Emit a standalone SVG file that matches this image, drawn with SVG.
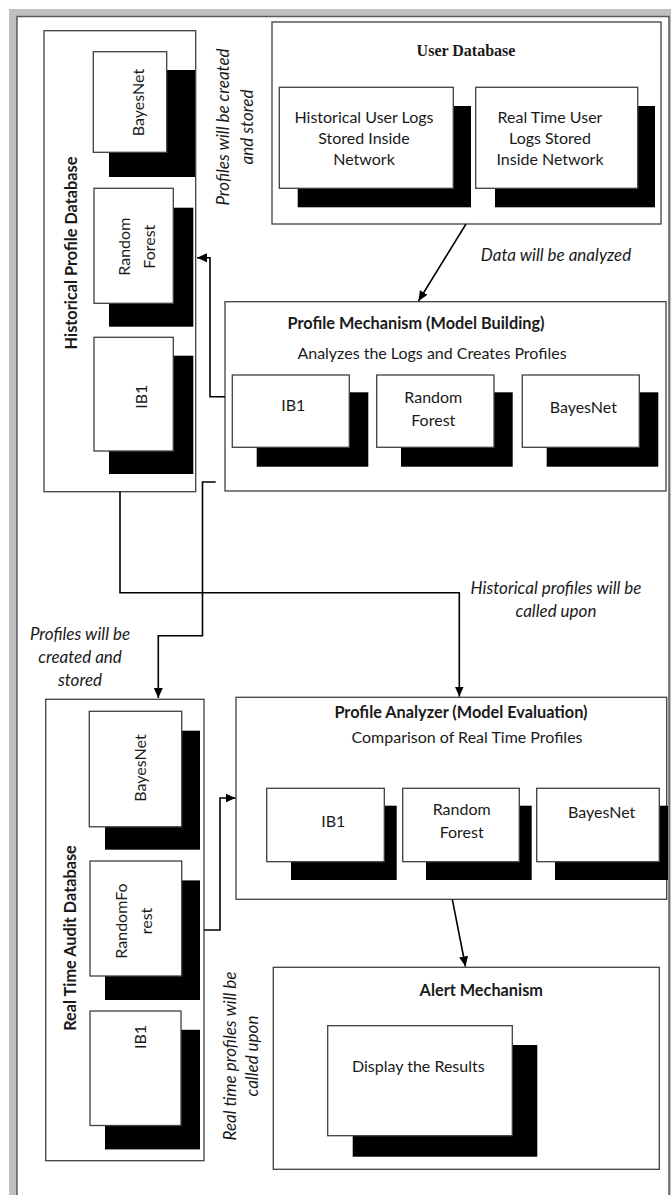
<svg xmlns="http://www.w3.org/2000/svg" width="671" height="1195" viewBox="0 0 671 1195">
<style>
.box{fill:#fff;stroke:#404040;stroke-width:1.3}
.sh{fill:#000}
.t{font-family:Lato,"Liberation Sans",sans-serif;font-size:16px;fill:#1a1a1a}
.tc{text-anchor:middle}
.b{font-weight:bold;font-size:16.3px}
.i{font-style:italic;font-size:17px}
.ser{font-family:"Liberation Serif",serif;font-weight:bold;font-size:16px}
.conn{fill:none;stroke:#000;stroke-width:1.6}
</style>
<defs>
<marker id="ah" markerUnits="userSpaceOnUse" markerWidth="11" markerHeight="10" refX="10" refY="5" orient="auto">
<path d="M0,0.5 L10,5 L0,9.5 z" fill="#000"/>
</marker>
</defs>
<g id="frame">
<rect x="9" y="9" width="662" height="1186" fill="#c0c0c0"/>
<rect x="17" y="16.5" width="652" height="1200" fill="#fff" stroke="#595959" stroke-width="1.5"/>
</g>
<g id="historical-profile-db">
<rect class="box" x="44" y="30.7" width="151.7" height="461"/>
<rect class="sh" x="109" y="70" width="86" height="107"/>
<rect class="box" x="93.3" y="51.7" width="73.4" height="100.6"/>
<rect class="sh" x="109" y="207.7" width="84.3" height="119"/>
<rect class="box" x="94" y="188.3" width="79.3" height="115"/>
<rect class="sh" x="109" y="355.7" width="84.3" height="118.3"/>
<rect class="box" x="94" y="337.3" width="79.3" height="113.7"/>
<text class="t tc b" transform="translate(77.3,253) rotate(-90)">Historical Profile Database</text>
<text class="t tc" transform="translate(143.9,102.5) rotate(-90)">BayesNet</text>
<text class="t tc" transform="translate(129.6,246.7) rotate(-90)"><tspan x="0" y="0">Random</tspan><tspan x="0" y="25">Forest</tspan></text>
<text class="t tc" transform="translate(147.3,396.7) rotate(-90)">IB1</text>
</g>
<g id="user-database">
<rect class="box" x="272" y="22" width="389" height="202"/>
<text class="ser tc" x="466" y="56" fill="#1a1a1a">User Database</text>
<rect class="sh" x="297.7" y="106" width="173.3" height="101.3"/>
<rect class="box" x="279.3" y="87.3" width="174" height="101"/>
<text class="t tc" x="364" y="122.5"><tspan x="364">Historical User Logs</tspan><tspan x="364" dy="21">Stored Inside</tspan><tspan x="364" dy="21">Network</tspan></text>
<rect class="sh" x="495" y="106" width="160" height="101.3"/>
<rect class="box" x="475.7" y="87.3" width="162" height="101"/>
<text class="t tc" x="550" y="122.5"><tspan x="550">Real Time User</tspan><tspan x="550" dy="21">Logs Stored</tspan><tspan x="550" dy="21">Inside Network</tspan></text>
</g>
<g id="profile-mechanism">
<rect class="box" x="225" y="301.7" width="441" height="189.3"/>
<text class="t tc b" x="416" y="328.5">Profile Mechanism (Model Building)</text>
<text class="t tc" x="432" y="358.8">Analyzes the Logs and Creates Profiles</text>
<rect class="sh" x="256.7" y="392.3" width="111.6" height="74.4"/>
<rect class="box" x="232.3" y="375" width="117" height="72.3"/>
<text class="t tc" x="293.3" y="410.5">IB1</text>
<rect class="sh" x="401" y="392.3" width="111.7" height="74.4"/>
<rect class="box" x="376.7" y="375" width="117.3" height="72.3"/>
<text class="t tc" x="433.3" y="402.8"><tspan x="433.3">Random</tspan><tspan x="433.3" dy="23.4">Forest</tspan></text>
<rect class="sh" x="546.7" y="392.3" width="111.6" height="74.4"/>
<rect class="box" x="522.3" y="375" width="117" height="72.3"/>
<text class="t tc" x="583.3" y="412.8">BayesNet</text>
</g>
<g id="real-time-audit-db">
<rect class="box" x="45.7" y="699.3" width="158.3" height="461.4"/>
<rect class="sh" x="105" y="730.7" width="95" height="119"/>
<rect class="box" x="89.3" y="711.3" width="92.4" height="115.5"/>
<rect class="sh" x="105" y="880.4" width="95" height="119.6"/>
<rect class="box" x="90" y="861" width="91.7" height="115"/>
<rect class="sh" x="105" y="1029.8" width="95" height="119.6"/>
<rect class="box" x="90" y="1011" width="91" height="114.5"/>
<text class="t tc b" transform="translate(76.3,938) rotate(-90)">Real Time Audit Database</text>
<text class="t tc" transform="translate(145.6,768) rotate(-90)">BayesNet</text>
<text class="t tc" transform="translate(127.3,921) rotate(-90)"><tspan x="0" y="0">RandomFo</tspan><tspan x="0" y="24.3">rest</tspan></text>
<text class="t tc" transform="translate(145.6,1037) rotate(-90)">IB1</text>
</g>
<g id="profile-analyzer">
<rect class="box" x="236" y="697.3" width="430.7" height="202"/>
<text class="t tc b" x="461" y="718">Profile Analyzer (Model Evaluation)</text>
<text class="t tc" x="467" y="743.2">Comparison of Real Time Profiles</text>
<rect class="sh" x="291" y="805.7" width="105.7" height="74.3"/>
<rect class="box" x="266.7" y="788.3" width="117.6" height="73.4"/>
<text class="t tc" x="333.3" y="826.6">IB1</text>
<rect class="sh" x="426" y="805.7" width="105.7" height="74.3"/>
<rect class="box" x="402.7" y="788.3" width="116.6" height="73.4"/>
<text class="t tc" x="461.7" y="814.8"><tspan x="461.7">Random</tspan><tspan x="461.7" dy="23">Forest</tspan></text>
<rect class="sh" x="555" y="805.7" width="113" height="74.3"/>
<rect class="box" x="536.7" y="788.3" width="122.6" height="73.4"/>
<text class="t tc" x="601.7" y="818.3">BayesNet</text>
</g>
<g id="alert-mechanism">
<rect class="box" x="273.3" y="967.3" width="386" height="202"/>
<text class="t tc b" x="481.3" y="995.8">Alert Mechanism</text>
<rect class="sh" x="352.7" y="1045" width="184.6" height="111.7"/>
<rect class="box" x="327.7" y="1025.7" width="184.6" height="110"/>
<text class="t tc" x="418.3" y="1071.5">Display the Results</text>
</g>
<g id="connectors">
<path class="conn" d="M466,224 L418.5,301" marker-end="url(#ah)"/>
<path class="conn" d="M225,396.7 H210 V257.7 H197" marker-end="url(#ah)"/>
<path class="conn" d="M120,491.7 V592.7 H459.3 V696.5" marker-end="url(#ah)"/>
<path class="conn" d="M215.7,482 H202.5 V635.7 H158.3 V698" marker-end="url(#ah)"/>
<path class="conn" d="M204,930 H220 V798 H235.5" marker-end="url(#ah)"/>
<path class="conn" d="M452.3,899.3 L465.5,966.5" marker-end="url(#ah)"/>
</g>
<g id="labels">
<text class="t tc i" transform="translate(229.3,127) rotate(-90)"><tspan x="0" y="0">Profiles will be created</tspan><tspan x="0" y="23.4">and stored</tspan></text>
<text class="t tc i" x="556" y="260.5">Data will be analyzed</text>
<text class="t tc i" x="556" y="593.8"><tspan x="556">Historical profiles will be</tspan><tspan x="556" dy="23">called upon</tspan></text>
<text class="t tc i" x="80" y="640"><tspan x="80">Profiles will be</tspan><tspan x="80" dy="23">created and</tspan><tspan x="80" dy="23">stored</tspan></text>
<text class="t tc i" transform="translate(236,1056) rotate(-90)"><tspan x="0" y="0">Real time profiles will be</tspan><tspan x="0" y="21.7">called upon</tspan></text>
</g>
</svg>
